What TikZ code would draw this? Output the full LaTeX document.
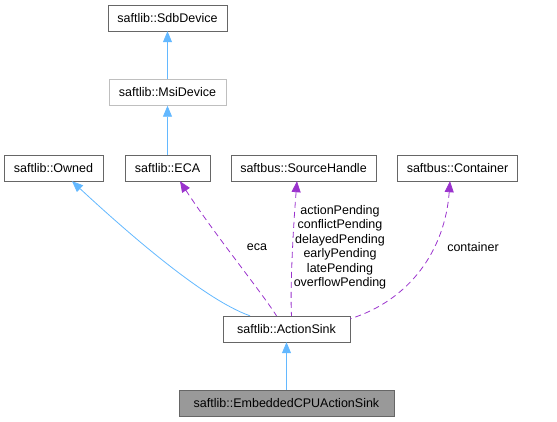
\documentclass[tikz,border=0pt]{standalone}
\usepackage{fontspec}
\setmainfont{Liberation Sans}
\usetikzlibrary{arrows.meta}
\definecolor{inherit}{HTML}{63B8FF}
\definecolor{usage}{HTML}{9A32CD}
\begin{document}
\begin{tikzpicture}[
      x=1pt, y=-1pt,
      font=\fontsize{12.5}{14.5}\selectfont,
      box/.style={draw=black!60, fill=white, minimum height=26pt, inner sep=0pt},
      inh/.style={draw=inherit, thick, {Triangle[length=11pt,width=9pt,fill=inherit]}-},
      use/.style={draw=usage, thick, dashed, dash pattern=on 6pt off 4pt,
        {Triangle[length=11pt,width=9pt,fill=usage]}-}
    ]
    \useasboundingbox (0,0) rectangle (557,421);
    \node (sdb) [box, minimum width=119pt] at (167.5,18) {saftlib::SdbDevice};
    \node (msi) [box, draw=black!25, minimum width=117pt] at (167.5,92.5) {saftlib::MsiDevice};
    \node (owned) [box, minimum width=99pt] at (53.5,168) {saftlib::Owned};
    \node (eca) [box, minimum width=85pt] at (167.5,168) {saftlib::ECA};
    \node (src) [box, minimum width=145pt] at (303.5,168) {saftbus::SourceHandle};
    \node (cont) [box, minimum width=120pt] at (457.5,168) {saftbus::Container};
    \node (sink) [box, minimum width=127pt] at (286.5,329) {saftlib::ActionSink};
    \node (cpu) [box, fill=black!40, minimum width=215pt] at (286.5,403) {saftlib::EmbeddedCPUActionSink};
    % inheritance
    \draw [inh] (sdb) -- (msi);
    \draw [inh] (msi) -- (eca);
    \draw [inh] (sink) -- (cpu);
    \draw [inh] ([xshift=18.5pt]owned.south) .. controls (130,235) and (205,300) .. ([xshift=-36.5pt]sink.north);
    % members
    \draw [use] ([xshift=12.5pt]eca.south) .. controls (215,235) and (260,290) .. ([xshift=-10pt]sink.north);
    \node (lbleca) at (257,247) {eca};
    \draw [use] ([xshift=-6.5pt]src.south) .. controls (293,230) and (290,290) .. ([xshift=5pt]sink.north);
    \node (lblsrc) [align=center] at (340,247.5)
      {actionPending\\conflictPending\\delayedPending\\earlyPending\\latePending\\overflowPending};
    \draw [use] ([xshift=-7.5pt]cont.south) .. controls (445,250) and (410,300) .. ([yshift=-3pt]sink.north east);
    \node (lblcont) at (473,247) {container};
\end{tikzpicture}
\end{document}
